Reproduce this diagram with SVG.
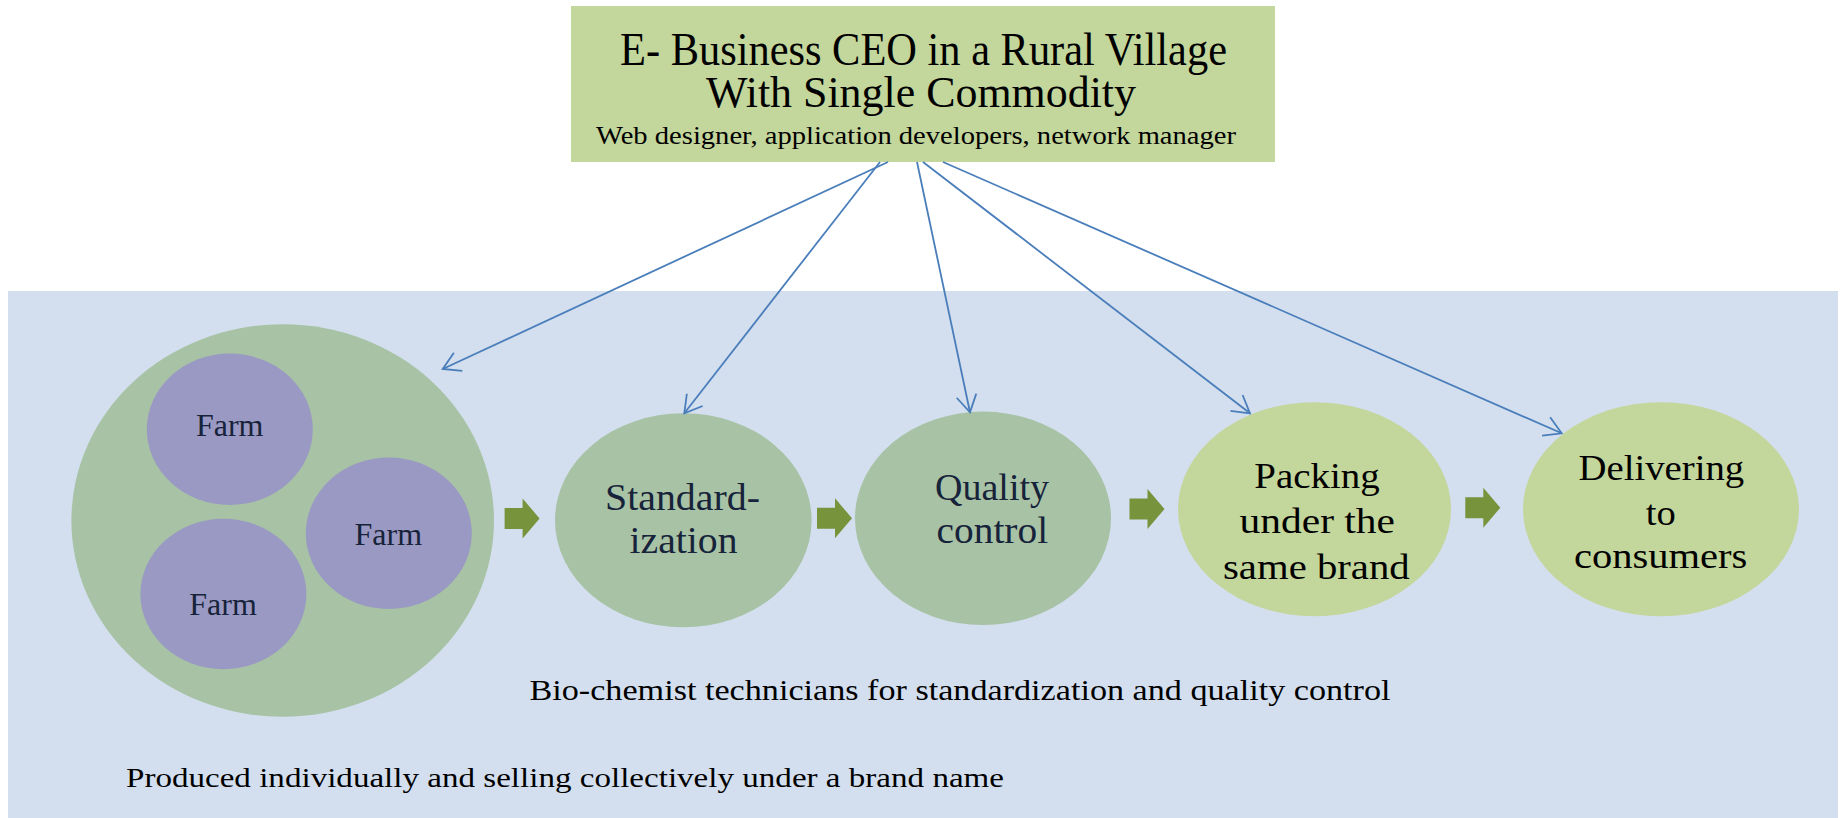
<svg xmlns="http://www.w3.org/2000/svg" width="1845" height="818" viewBox="0 0 1845 818">
<style>
.serif{font-family:"Liberation Serif","Times New Roman",serif}
.navy{fill:#17233a}
.blk{fill:#000}
.conn{stroke:#4a7ebb;stroke-width:1.8;fill:none}
.mid{fill:#a7c2a5}
.lite{fill:#c3d69b}
.farm{fill:#9a99c3}
.barrow{fill:#77933c}
</style>
<defs>
<marker id="open" markerUnits="userSpaceOnUse" markerWidth="24" markerHeight="24" viewBox="-20 -12 24 24" refX="0" refY="0" orient="auto">
<path d="M-17,-10 L0,0 L-17,10" fill="none" stroke="#4a7ebb" stroke-width="1.8"/>
</marker>
<path id="blk" d="M0,9.5 H18 V0 L35,20 L18,40 V30.5 H0 Z"/>
</defs>
<rect id="background" x="8" y="291" width="1830" height="527" fill="#d3dfee"/>
<g id="title">
<rect x="571" y="6" width="704" height="156" class="lite"/>
<text class="serif blk" x="620" y="65" font-size="46" textLength="607" lengthAdjust="spacingAndGlyphs">E- Business CEO in a Rural Village</text>
<text class="serif blk" x="706" y="107" font-size="45" textLength="430" lengthAdjust="spacingAndGlyphs">With Single Commodity</text>
<text class="serif blk" x="596" y="144" font-size="25" textLength="640" lengthAdjust="spacingAndGlyphs">Web designer, application developers, network manager</text>
</g>
<g id="farms">
<ellipse cx="282.7" cy="520.5" rx="211.3" ry="196.2" class="mid"/>
<g id="farm1">
<ellipse cx="229.8" cy="429.3" rx="83" ry="75.7" class="farm"/>
<text class="serif navy" x="229.7" y="436" font-size="32" text-anchor="middle">Farm</text>
</g>
<g id="farm2">
<ellipse cx="388.8" cy="533.3" rx="83" ry="75.7" class="farm"/>
<text class="serif navy" x="388.3" y="545" font-size="32" text-anchor="middle">Farm</text>
</g>
<g id="farm3">
<ellipse cx="223.4" cy="594" rx="83" ry="75.3" class="farm"/>
<text class="serif navy" x="223" y="615" font-size="32" text-anchor="middle">Farm</text>
</g>
</g>
<g id="standardization">
<ellipse cx="683.3" cy="520.3" rx="128.3" ry="107" class="mid"/>
<text class="serif navy" x="605" y="510" font-size="37" textLength="155" lengthAdjust="spacingAndGlyphs">Standard-</text>
<text class="serif navy" x="629.5" y="553.3" font-size="37" textLength="108" lengthAdjust="spacingAndGlyphs">ization</text>
</g>
<g id="quality">
<ellipse cx="983" cy="518.3" rx="128" ry="106.7" class="mid"/>
<text class="serif navy" x="935" y="500" font-size="37" textLength="114" lengthAdjust="spacingAndGlyphs">Quality</text>
<text class="serif navy" x="936.6" y="543.3" font-size="37" textLength="111.5" lengthAdjust="spacingAndGlyphs">control</text>
</g>
<g id="packing">
<ellipse cx="1314.5" cy="509.2" rx="136.5" ry="107" class="lite"/>
<text class="serif blk" x="1254.3" y="488.3" font-size="36" textLength="125.4" lengthAdjust="spacingAndGlyphs">Packing</text>
<text class="serif blk" x="1239.6" y="533.3" font-size="36" textLength="155.4" lengthAdjust="spacingAndGlyphs">under the</text>
<text class="serif blk" x="1223" y="579" font-size="36" textLength="186.7" lengthAdjust="spacingAndGlyphs">same brand</text>
</g>
<g id="delivering">
<ellipse cx="1661" cy="509.2" rx="138" ry="107" class="lite"/>
<text class="serif blk" x="1578.5" y="480" font-size="36" textLength="165.7" lengthAdjust="spacingAndGlyphs">Delivering</text>
<text class="serif blk" x="1645.7" y="525" font-size="36" textLength="30" lengthAdjust="spacingAndGlyphs">to</text>
<text class="serif blk" x="1574" y="568.3" font-size="36" textLength="173.3" lengthAdjust="spacingAndGlyphs">consumers</text>
</g>
<g id="flow-arrows" class="barrow">
<use href="#blk" transform="translate(504.6,498.5)"/>
<use href="#blk" transform="translate(817,498.3)"/>
<use href="#blk" transform="translate(1129.5,489)"/>
<use href="#blk" transform="translate(1465.3,487.7)"/>
</g>
<g id="connectors">
<line class="conn" x1="888" y1="162" x2="442.7" y2="369" marker-end="url(#open)"/>
<line class="conn" x1="880" y1="162" x2="684.3" y2="413.3" marker-end="url(#open)"/>
<line class="conn" x1="917" y1="162" x2="970" y2="412.3" marker-end="url(#open)"/>
<line class="conn" x1="923" y1="162" x2="1250" y2="413.3" marker-end="url(#open)"/>
<line class="conn" x1="943" y1="162" x2="1561.7" y2="433.3" marker-end="url(#open)"/>
</g>
<g id="labels">
<text class="serif blk" x="529.5" y="700" font-size="30" textLength="861" lengthAdjust="spacingAndGlyphs">Bio-chemist technicians for standardization and quality control</text>
<text class="serif blk" x="126" y="786.7" font-size="28" textLength="878" lengthAdjust="spacingAndGlyphs">Produced individually and selling collectively under a brand name</text>
</g>
</svg>
